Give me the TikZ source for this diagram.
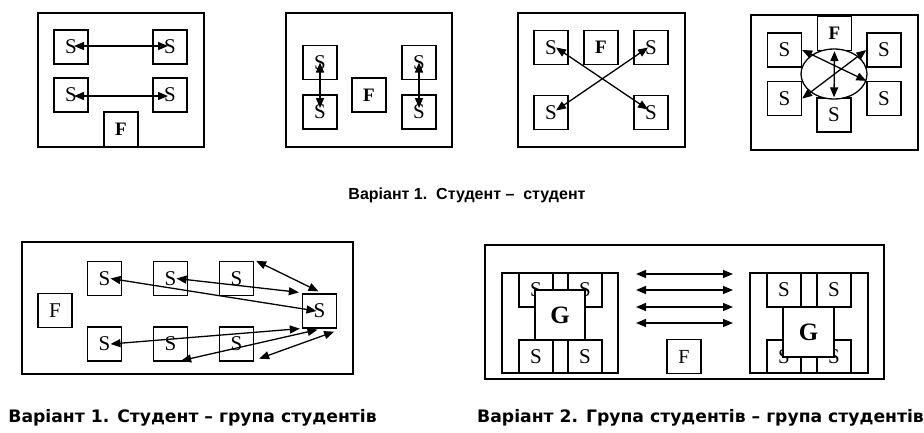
\documentclass[tikz,border=0pt]{standalone}
\usepackage{fontspec}
\setmainfont{Liberation Sans}
\newfontfamily\tnr{Liberation Serif}
\newfontfamily\capfont{DejaVu Sans}
\usetikzlibrary{arrows.meta,shapes.geometric,calc}
\begin{document}
\begin{tikzpicture}[x=1pt,y=-1pt,
  panel/.style={draw, line width=1.5pt},
  sbox/.style={draw, line width=1.3pt, fill=white, minimum width=34pt, minimum height=34pt, inner sep=0pt, font=\fontsize{21}{21}\selectfont\tnr},
  fbox/.style={sbox, font=\fontsize{19}{19}\selectfont\tnr\bfseries},
  gbox/.style={draw, line width=1.3pt, fill=white, minimum width=50pt, minimum height=50pt, inner sep=0pt, font=\fontsize{25}{25}\selectfont\tnr\bfseries},
  dbl/.style={line width=1.3pt, {Triangle[length=10pt,width=8pt]}-{Triangle[length=10pt,width=8pt]}},
  captop/.style={font=\fontsize{16}{16}\selectfont\bfseries},
  capbot/.style={font=\fontsize{17.2}{17.2}\selectfont\capfont\bfseries}
]
\useasboundingbox (0,0) rectangle (924,432);

% ---------- Panel 1 ----------
\draw[panel] (38,13) rectangle (204,147);
\node[sbox] (a1) at (71,47) {S};
\node[sbox] (a2) at (170,47) {S};
\node[sbox] (a3) at (71,95) {S};
\node[sbox] (a4) at (170,95) {S};
\node[fbox, minimum height=35pt] (aF) at (121,129.5) {F};
\draw[dbl] ($(a1.center)+(3,-1)$) -- ($(a2.center)+(-2,-1)$);
\draw[dbl] ($(a3.center)+(3,1)$) -- ($(a4.center)+(-2,1)$);

% ---------- Panel 2 ----------
\draw[panel] (286,13) rectangle (452,147);
\node[sbox] (b1) at (320,62.5) {S};
\node[sbox] (b2) at (320,112) {S};
\node[sbox] (b3) at (419,62.5) {S};
\node[sbox] (b4) at (419,112) {S};
\node[fbox] (bF) at (369,95) {F};
\draw[dbl] (b1.center) -- ($(b2.center)+(0,-4)$);
\draw[dbl] (b3.center) -- ($(b4.center)+(0,-4)$);

% ---------- Panel 3 ----------
\draw[panel] (518,13) rectangle (685,147);
\node[sbox] (c1) at (551,47.5) {S};
\node[fbox] (cF) at (601,47.5) {F};
\node[sbox] (c2) at (651,47.5) {S};
\node[sbox] (c3) at (551,112.5) {S};
\node[sbox] (c4) at (651,112.5) {S};
\draw[dbl] ($(c1.center)+(5,0)$) -- ($(c4.center)+(-3,-3)$);
\draw[dbl] ($(c3.center)+(5,-2)$) -- ($(c2.center)+(-3,0)$);

% ---------- Panel 4 ----------
\draw[panel] (751,15) rectangle (918,150);
\node[fbox] (dF) at (834.5,33.5) {F};
\node[sbox] (d1) at (784.5,50) {S};
\node[sbox] (d2) at (884,50) {S};
\node[sbox] (d3) at (784.5,98.5) {S};
\node[sbox] (d4) at (884,98.5) {S};
\node[sbox] (d5) at (834,115) {S};
\node[draw, ellipse, fill=white, line width=1.3pt, minimum width=66pt, minimum height=50pt, inner sep=0pt] (dE) at (834,74) {};
\draw[dbl] (dF.south) -- (d5.north);
\draw[dbl] (d1.east) -- (d4.north west);
\draw[dbl] (d3.east) -- (d2.west);

% ---------- Caption top ----------
\node[captop] (cap1) at (467,195) {Варіант 1.\ \ Студент –\ \ студент};

% ---------- Panel 5 ----------
\draw[panel] (22,242) rectangle (353,374);
\node[sbox] (e1) at (104.5,278.5) {S};
\node[sbox] (e2) at (170.5,278.5) {S};
\node[sbox] (e3) at (236.5,278.5) {S};
\node[sbox] (e4) at (104.5,344) {S};
\node[sbox] (e5) at (170.5,344) {S};
\node[sbox] (e6) at (236.5,344) {S};
\node[sbox] (eF) at (55,310.5) {F};
\node[sbox] (eR) at (319.5,311) {S};
\draw[dbl] ($(e1.center)+(6,0)$) -- ($(eR.center)+(-3,0)$);
\draw[dbl] ($(e2.center)+(6,0)$) -- ($(eR.north west)+(-3,-1)$);
\draw[dbl] ($(e3.north east)+(2,0)$) -- ($(eR.north)+(-1,-2)$);
\draw[dbl] ($(e4.center)+(6,0)$) -- ($(eR.south west)+(-2,0)$);
\draw[dbl] ($(e5.south east)+(-7,-1)$) -- ($(eR.south)+(-2,1)$);
\draw[dbl] ($(e6.south east)+(5,-3)$) -- ($(eR.south east)+(-3,3)$);

% ---------- Panel 6 ----------
\draw[panel] (485,245) rectangle (884,379);
% left group
\draw[panel, line width=1.3pt] (502,273) rectangle (618,373);
\node[sbox] (f1) at (536,290) {S};
\node[sbox] (f2) at (585,290) {S};
\node[sbox, minimum height=33pt] (f3) at (536,356.5) {S};
\node[sbox, minimum height=33pt] (f4) at (585,356.5) {S};
\node[gbox] (fG) at (560,315) {G};
% right group
\draw[panel, line width=1.3pt] (750,273) rectangle (868,373);
\node[sbox] (g1) at (784,290) {S};
\node[sbox] (g2) at (834,290) {S};
\node[sbox, minimum height=33pt] (g3) at (784,356.5) {S};
\node[sbox, minimum height=33pt] (g4) at (834,356.5) {S};
\node[gbox, minimum width=51pt] (gG) at (808.5,332) {G};
% arrows
\coordinate (h1l) at (636,274); \coordinate (h1r) at (733,274);
\coordinate (h2l) at (636,290); \coordinate (h2r) at (733,290);
\coordinate (h3l) at (636,307); \coordinate (h3r) at (733,307);
\coordinate (h4l) at (636,323); \coordinate (h4r) at (733,323);
\draw[dbl] (h1l) -- (h1r);
\draw[dbl] (h2l) -- (h2r);
\draw[dbl] (h3l) -- (h3r);
\draw[dbl] (h4l) -- (h4r);
\node[sbox, font=\fontsize{20}{20}\selectfont\tnr] (hF) at (684,356.5) {F};

% ---------- Bottom captions ----------
\node[capbot] (cap2) at (192.5,418) {Варіант 1. Студент – група студентів};
\node[capbot] (cap3) at (700.5,418) {Варіант 2. Група студентів – група студентів};
\end{tikzpicture}
\end{document}
